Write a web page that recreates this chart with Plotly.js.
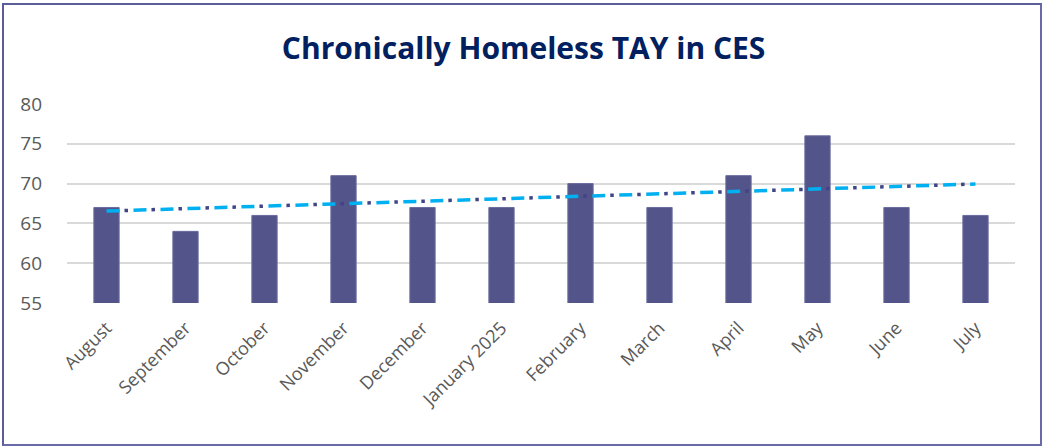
<!DOCTYPE html>
<html>
<head>
<meta charset="utf-8">
<script src="https://cdn.plot.ly/plotly-3.0.1.min.js"></script>
<style>
  html, body { margin: 0; padding: 0; background: #fff; }
  #wrap { position: relative; width: 1043px; height: 447px; }
  #chart { width: 1043px; height: 447px; }
  #frame { position: absolute; left: 2px; top: 3px; width: 1036px; height: 439px;
           border: 2px solid #6a6aa6; border-top-color: #5c5c98; border-left-color: #5c5c98;
           pointer-events: none; }
</style>
</head>
<body>
<div id="wrap">
  <div id="chart"></div>
  <div id="frame"></div>
</div>
<script>
const months = ['August','September','October','November','December','January 2025',
                'February','March','April','May','June','July'];
const counts = [67, 64, 66, 71, 67, 67, 70, 67, 71, 76, 67, 66];
const trendMonths = ['August', 'July'];
const trendValues = [66.55, 69.95];
const yTicks = [55, 60, 65, 70, 75, 80];

const bars = {
  type: 'bar', x: months, y: counts,
  marker: { color: '#53558a', line: { color: '#6a6c9e', width: 1 } },
  hoverinfo: 'x+y', showlegend: false
};
const trendDots = {
  type: 'scatter', mode: 'lines', x: trendMonths, y: trendValues,
  line: { color: '#3f4585', width: 3.5, dash: '0px,18px,3.5px,5.5px' },
  hoverinfo: 'skip', showlegend: false
};
const trendDash = {
  type: 'scatter', mode: 'lines', x: trendMonths, y: trendValues,
  line: { color: '#00b0f0', width: 3.5, dash: '13px,14px' },
  hoverinfo: 'skip', showlegend: false
};

const layout = {
  width: 1043, height: 447,
  margin: { l: 67, r: 28, t: 104, b: 144 },
  paper_bgcolor: '#ffffff', plot_bgcolor: '#ffffff',
  title: {
    text: 'Chronically Homeless TAY in CES',
    font: { family: 'Open Sans, Liberation Sans, sans-serif', size: 30, color: '#002060', weight: 700 },
    x: 0.502, xanchor: 'center', y: 0.892, yanchor: 'middle'
  },
  bargap: 0.68,
  xaxis: {
    type: 'category', tickangle: -45,
    tickfont: { family: 'Open Sans, Liberation Sans, sans-serif', size: 18, color: '#595959' },
    showgrid: false, zeroline: false, showline: false, ticks: '', ticklen: 0,
    ticklabelstandoff: 10
  },
  yaxis: {
    range: [55, 80], tickvals: yTicks, ticktext: yTicks.map(String),
    tickfont: { family: 'Open Sans, Liberation Sans, sans-serif', size: 19, color: '#595959' },
    showgrid: true, gridcolor: '#d9d9d9', gridwidth: 2, zeroline: false, showline: false,
    ticks: '', ticklabelstandoff: 24
  }
};

Plotly.newPlot('chart', [bars, trendDots, trendDash], layout, { displayModeBar: false, staticPlot: true });
</script>
</body>
</html>
